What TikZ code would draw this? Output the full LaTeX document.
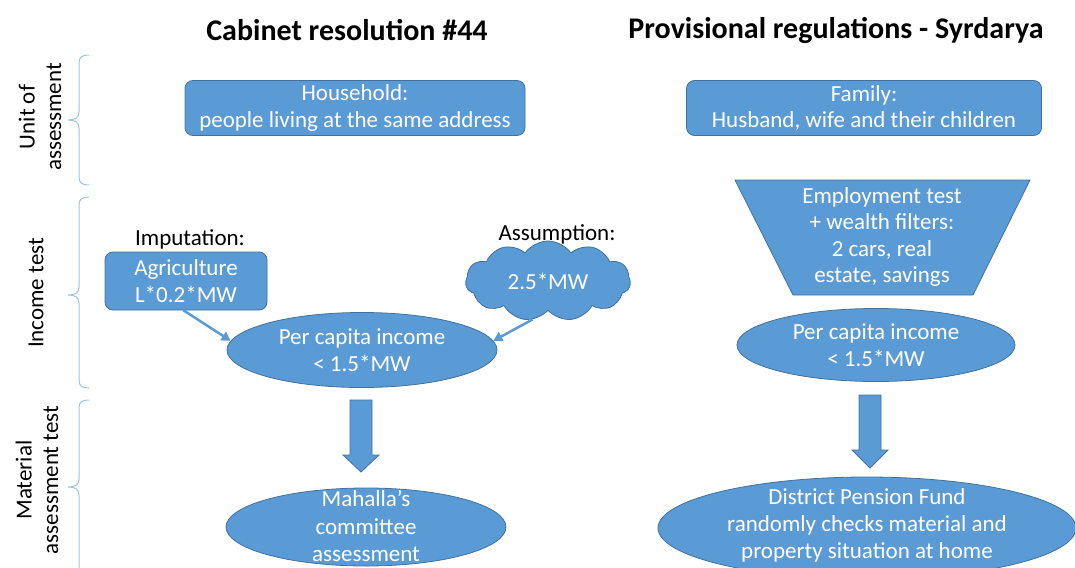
\documentclass[tikz,border=0pt]{standalone}
\usepackage{fontspec}
\setmainfont{Carlito}
\usetikzlibrary{shapes.geometric,shapes.symbols,arrows.meta}
\definecolor{boxfill}{HTML}{5B9BD5}
\definecolor{boxborder}{HTML}{41719C}
\definecolor{bracecol}{HTML}{9DC3E6}
\newcommand\sidebrace[3]{%
  \draw[bracecol, line width=1pt] (89,#1) .. controls (82,#1) and (79,{#1+2}) .. (79,{#1+8}) -- (79,{#2-8}) .. controls (79,{#2-2}) and (75,#2) .. (68,#2) .. controls (75,#2) and (79,{#2+2}) .. (79,{#2+8}) -- (79,{#3-8}) .. controls (79,{#3-2}) and (82,#3) .. (89,#3);}
\begin{document}
\begin{tikzpicture}[x=1pt,y=-1pt,
  body/.style={font=\fontsize{23}{26.5}\selectfont},
  shapebox/.style={draw=boxborder, fill=boxfill, text=white, line width=0.8pt, align=center, inner sep=0pt, body},
  rbox/.style={shapebox, rectangle, rounded corners=8pt},
  oval/.style={shapebox, ellipse},
  title/.style={font=\bfseries\fontsize{30}{34}\selectfont},
  side/.style={rotate=90, align=center, body},
  thinarrow/.style={boxfill, line width=2.5pt, -{Triangle[length=9pt,width=10pt]}},
  blockarrow/.style={draw=boxborder, fill=boxfill, line width=0.8pt}
]
\useasboundingbox (0,0) rectangle (1075,567);
\clip (0,0) rectangle (1075,567);

% titles
\node[title] (t1) at (347,30) {Cabinet resolution \#44};
\node[title] (t2) at (836,30) {Provisional regulations - Syrdarya};

% side braces and labels
\sidebrace{55}{120}{185}
\sidebrace{197}{295}{388}
\sidebrace{400}{487}{650}
\node[side] (l1) at (40,117) {Unit of\\assessment};
\node[side] (l2) at (36,293) {Income test};
\node[side] (l3) at (37,480) {Material\\assessment test};

% row 1
\node[rbox, minimum width=340, minimum height=55] (hh) at (355,108) {Household:\\people living at the same address};
\node[rbox, minimum width=355, minimum height=55] (fam) at (864,108) {Family:\\Husband, wife and their children};

% row 2 left
\node[body] (imp) at (190,239) {Imputation:};
\node[body] (ass) at (557,234) {Assumption:};
\node[rbox, minimum width=162, minimum height=58] (agri) at (186,281) {Agriculture\\L*0.2*MW};
\node[shapebox, cloud, cloud puffs=11, cloud puff arc=110, aspect=2.1, minimum width=165, minimum height=80] (cloud) at (548,281) {2.5*MW};
\node[oval, minimum width=270, minimum height=75] (pcl) at (362,350) {Per capita income\\< 1.5*MW};
\draw[thinarrow] (183,310) -- (pcl.176);
\draw[thinarrow] (cloud.248) -- (pcl.4);

% row 2 right
\filldraw[blockarrow] (735,180) -- (1030,180) -- (973,295) -- (793,295) -- cycle;
\node[body, text=white, align=center] (emp) at (882,237) {Employment test\\+ wealth filters:\\2 cars, real\\estate, savings};
\node[oval, minimum width=278, minimum height=73] (pcr) at (876,345) {Per capita income\\< 1.5*MW};

% block arrows
\filldraw[blockarrow] (350,400) -- (372,400) -- (372,455) -- (379,455) -- (361,472) -- (343,455) -- (350,455) -- cycle;
\filldraw[blockarrow] (859,395) -- (881,395) -- (881,450) -- (888,450) -- (870,468) -- (852,450) -- (859,450) -- cycle;

% row 3
\node[oval, minimum width=280, minimum height=78] (mah) at (366,527) {};
\node[body, text=white, align=center, font=\fontsize{23}{27.5}\selectfont] (maht) at (366,526) {Mahalla’s\\committee\\assessment};
\node[oval, minimum width=418, minimum height=102] (dpf) at (867,528) {};
\node[body, text=white, align=center, font=\fontsize{23}{27}\selectfont] (dpft) at (867,525) {District Pension Fund\\randomly checks material and\\property situation at home};
\end{tikzpicture}
\end{document}
